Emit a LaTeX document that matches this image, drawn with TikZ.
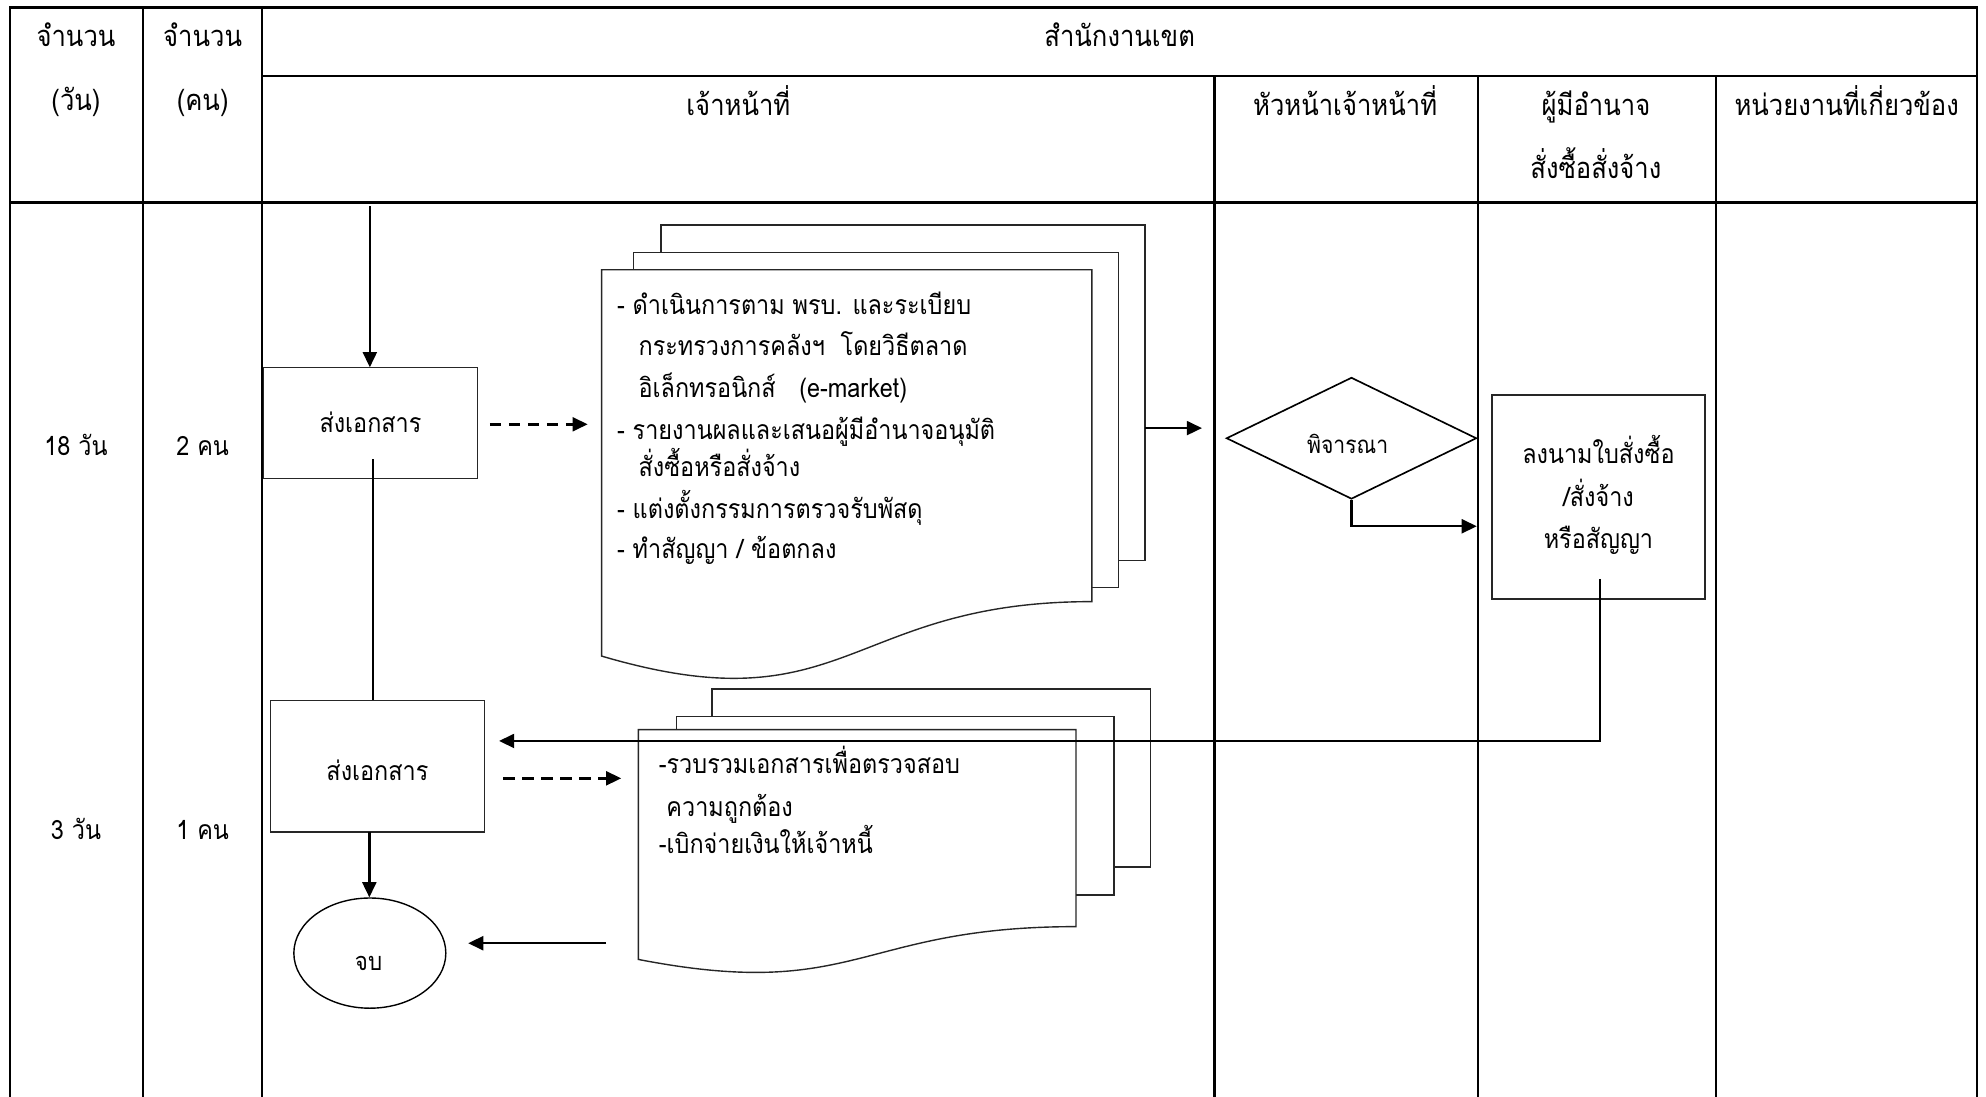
\documentclass[tikz,border=0pt]{standalone}
\usepackage{fontspec}
\setmainfont{Loma}[Script=Thai, FakeStretch=0.88]
\usetikzlibrary{arrows.meta,shapes.geometric}
\begin{document}
\begin{tikzpicture}[x=1pt,y=-1pt,
  tbl/.style={line width=1.9pt, draw=black},
  shp/.style={draw=black!85, line width=1.1pt, fill=white},
  arr/.style={line width=1.9pt, -{Triangle[length=12pt,width=11pt]}},
  darr/.style={arr, dash pattern=on 9pt off 6pt},
  lnk/.style={line width=1.6pt},
  txt/.style={anchor=base, inner sep=0pt, font=\fontsize{21}{25}\selectfont},
  hd/.style={txt, font=\fontsize{23}{27}\selectfont},
  boxs/.style={shp, rectangle, inner sep=0pt},
]
\useasboundingbox (0,0) rectangle (1568,866);
% ---------- table ----------
\draw[tbl] (8,872) -- (8,6) -- (1561,6) -- (1561,872);
\draw[tbl] (113,6) -- (113,872);
\draw[tbl] (207,6) -- (207,872);
\draw[tbl] (207,60) -- (1561,60);
\draw[tbl] (8,160) -- (1561,160);
\draw[tbl] (959,60) -- (959,872);
\draw[tbl] (1167,60) -- (1167,872);
\draw[tbl] (1355,60) -- (1355,872);
% headers
\node[hd] (h1a) at (60,37) {จำนวน};
\node[hd] (h1b) at (60,87) {(วัน)};
\node[hd] (h2a) at (160,37) {จำนวน};
\node[hd] (h2b) at (160,87) {(คน)};
\node[hd] (h3) at (884,37) {สำนักงานเขต};
\node[hd] (h4) at (583,91) {เจ้าหน้าที่};
\node[hd] (h5) at (1062,91) {หัวหน้าเจ้าหน้าที่};
\node[hd] (h6a) at (1260,91) {ผู้มีอำนาจ};
\node[hd] (h6b) at (1260,141) {สั่งซื้อสั่งจ้าง};
\node[hd] (h7) at (1458,91) {หน่วยงานที่เกี่ยวข้อง};
% row labels
\node[txt] (r1a) at (60,360) {18 วัน};
\node[txt] (r1b) at (160,360) {2 คน};
\node[txt] (r2a) at (60,663) {3 วัน};
\node[txt] (r2b) at (160,663) {1 คน};
% ---------- documents 1 ----------
\draw[shp] (522,177.6) rectangle (904,442.6);
\draw[shp] (500,199.5) rectangle (883,464);
\draw[shp] (475,213) -- (862,213) -- (862,475) .. controls (668.5,475) and (668.5,575) .. (475,518) -- cycle;
\node[txt, anchor=base west] (d1a) at (487,248) {- ดำเนินการตาม พรบ. และระเบียบ};
\node[txt, anchor=base west] (d1b) at (504,281) {กระทรวงการคลังฯ\ \ โดยวิธีตลาด};
\node[txt, anchor=base west] (d1c) at (504,314) {อิเล็กทรอนิกส์\ \ \ (e-market)};
\node[txt, anchor=base west] (d1d) at (487,347) {- รายงานผลและเสนอผู้มีอำนาจอนุมัติ};
\node[txt, anchor=base west] (d1e) at (504,376) {สั่งซื้อหรือสั่งจ้าง};
\node[txt, anchor=base west] (d1f) at (487,409) {- แต่งตั้งกรรมการตรวจรับพัสดุ};
\node[txt, anchor=base west] (d1g) at (487,441) {- ทำสัญญา / ข้อตกลง};
% ---------- documents 2 ----------
\draw[shp] (562,544) rectangle (908.5,684.6);
\draw[shp] (534,565.8) rectangle (879.5,706.6);
\draw[shp] (504,576) -- (849.5,576) -- (849.5,731.6) .. controls (677,731.6) and (677,791) .. (504,757.5) -- cycle;
\node[txt, anchor=base west] (d2a) at (520,611) {-รวบรวมเอกสารเพื่อตรวจสอบ};
\node[txt, anchor=base west] (d2b) at (526,645) {ความถูกต้อง};
\node[txt, anchor=base west] (d2c) at (520,674) {-เบิกจ่ายเงินให้เจ้าหนี้};
% ---------- boxes ----------
\node[boxs, minimum width=169pt, minimum height=88pt] (b1) at (292.5,334) {};
\node[txt] (b1t) at (292.5,341.5) {ส่งเอกสาร};
\node[boxs, minimum width=169pt, minimum height=104pt] (b2) at (298,605) {};
\node[txt] (b2t) at (298,616) {ส่งเอกสาร};
\node[boxs, minimum width=168pt, minimum height=161pt] (b3) at (1262,392.5) {};
\node[txt] (b3a) at (1262,366) {ลงนามใบสั่งซื้อ};
\node[txt] (b3b) at (1262,400) {/สั่งจ้าง};
\node[txt] (b3c) at (1262,433) {หรือสัญญา};
\node[draw=black, line width=1.3pt, diamond, minimum width=197.5pt, minimum height=96pt, inner sep=0pt] (dia) at (1067,346) {};
\node[txt, font=\fontsize{19}{23}\selectfont] (diat) at (1064,358) {พิจารณา};
\node[draw=black, line width=1.1pt, ellipse, minimum width=120pt, minimum height=87pt, inner sep=0pt] (end) at (292,752.5) {};
\node[txt, font=\fontsize{20}{24}\selectfont] (endt) at (291,766) {จบ};
% ---------- connectors ----------
\coordinate (s0) at (292,163);
\draw[arr] (s0) -- (292,290);
\coordinate (da1s) at (386.7,335);
\coordinate (da1e) at (464,335);
\draw[darr] (da1s) -- (da1e);
\coordinate (doc1r) at (904,338);
\coordinate (doc1e) at (949,338);
\draw[arr] (doc1r) -- (doc1e);
\coordinate (dx) at (1166,415.5);
\draw[arr] (dia.south) |- (dx);
\coordinate (b3s) at (1263,457);
\coordinate (b2a) at (394,585);
\draw[arr] (b3s) |- (b2a);
\coordinate (b1s) at (294.6,362.6);
\draw[lnk] (b1s) -- (b1s |- b2.north);
\coordinate (da2s) at (397.5,614.5);
\coordinate (da2e) at (490.5,614.5);
\draw[darr] (da2s) -- (da2e);
\draw[arr] (291.6,657) -- (291.6,708.5);
\coordinate (d2l) at (478.6,744.7);
\coordinate (d2e) at (369.6,744.7);
\draw[arr] (d2l) -- (d2e);
\end{tikzpicture}
\end{document}
